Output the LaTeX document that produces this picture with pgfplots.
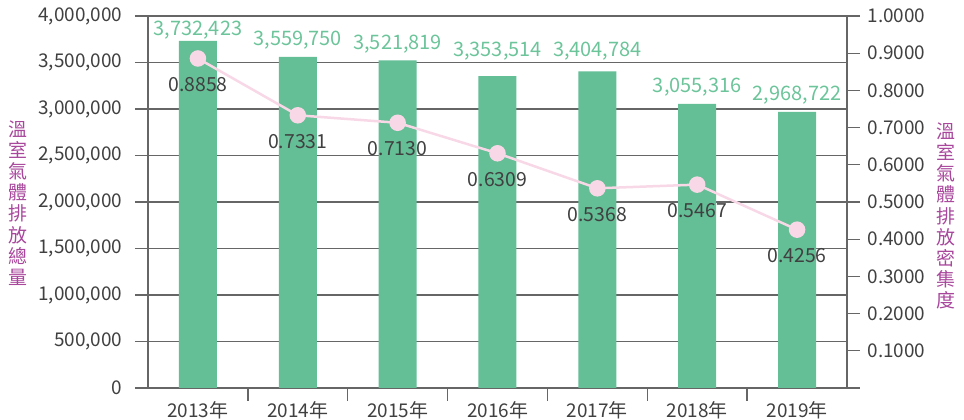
\documentclass[border=0pt]{standalone}
\usepackage{pgfplots}
\pgfplotsset{compat=1.18}
\usepackage{fontspec}
\setmainfont{Noto Sans CJK TC}
\definecolor{bargreen}{HTML}{64BE96}
\definecolor{labgreen}{HTML}{6CC49A}
\definecolor{linepink}{HTML}{F8D8E6}
\definecolor{purp}{HTML}{A8479C}
\definecolor{txt}{HTML}{404040}
\definecolor{axgray}{HTML}{666666}
\begin{document}
\begin{tikzpicture}
\pgfplotsset{every axis/.append style={
  scale only axis, width=699bp, height=372bp, xmin=-0.5, xmax=6.5,
  /pgf/number format/assume math mode=true,
  tick label style={font=\fontsize{19}{22}\selectfont, text=txt},
  axis line style={axgray, line width=1.3pt},
  tick style={axgray, line width=1.3pt},
  major tick length=13bp, tick align=outside,
}}
\begin{axis}[name=ax,
  ymin=0, ymax=4000000,
  axis x line*=bottom, axis y line*=left,
  ytick={0,500000,1000000,1500000,2000000,2500000,3000000,3500000,4000000},
  scaled y ticks=false,
  yticklabel style={xshift=-9bp, /pgf/number format/.cd, fixed, precision=0, 1000 sep={,}},
  ymajorgrids, major grid style={axgray, line width=1.3pt},
  xtick={0.5,1.5,2.5,3.5,4.5,5.5}, xticklabels={},
  extra x ticks={0,1,2,3,4,5,6},
  extra x tick labels={2013年,2014年,2015年,2016年,2017年,2018年,2019年},
  extra x tick style={major tick length=0pt, grid=none, xticklabel style={yshift=-10bp}},
]
\addplot[ybar, bar width=38bp, fill=bargreen, draw=none]
  table {
x y
0 3732423
1 3559750
2 3521819
3 3353514
4 3404784
5 3055316
6 2968722
};
% value labels, placed where the reference shows them
\addplot[draw=none, mark=none, nodes near coords, point meta=explicit symbolic,
  every node near coord/.append style={anchor=center, yshift=-2.5bp, text=labgreen, font=\fontsize{20}{23}\selectfont}]
  table[meta=lab] {
x y lab
0 3876344 3,732,423
1 3763441 3,559,750
2 3720430 3,521,819
3 3645161 3,353,514
4 3645161 3,404,784
5 3263441 3,055,316
6 3172043 2,968,722
};
\end{axis}
\begin{axis}[
  ymin=0, ymax=1,
  axis x line=none, axis y line*=right,
  ytick={0,0.1,0.2,0.3,0.4,0.5,0.6,0.7,0.8,0.9,1.0},
  yticklabels={,0.1000,0.2000,0.3000,0.4000,0.5000,0.6000,0.7000,0.8000,0.9000,1.0000},
  yticklabel style={xshift=4bp},
]
\addplot[linepink, line width=2.5bp, mark=*, mark size=7bp,
  mark options={fill=linepink, draw=linepink},
  nodes near coords, point meta=explicit symbolic,
  every node near coord/.append style={anchor=center, yshift=-26bp, text=txt, font=\fontsize{19.5}{22}\selectfont}]
  table[meta=lab] {
x y lab
0 0.8858 0.8858
1 0.7331 0.7331
2 0.7130 0.7130
3 0.6309 0.6309
4 0.5368 0.5368
5 0.5467 0.5467
6 0.4256 0.4256
};
\end{axis}
\node[font=\fontsize{19}{21.3}\selectfont, text=purp, align=center, inner sep=0pt] at (-130bp,185bp) {溫\\室\\氣\\體\\排\\放\\總\\量};
\node[font=\fontsize{19}{21.3}\selectfont, text=purp, align=center, inner sep=0pt] at (798bp,172bp) {溫\\室\\氣\\體\\排\\放\\密\\集\\度};
\pgfresetboundingbox
\useasboundingbox (-148bp,-32bp) rectangle (816bp,388bp);
\end{tikzpicture}
\end{document}
